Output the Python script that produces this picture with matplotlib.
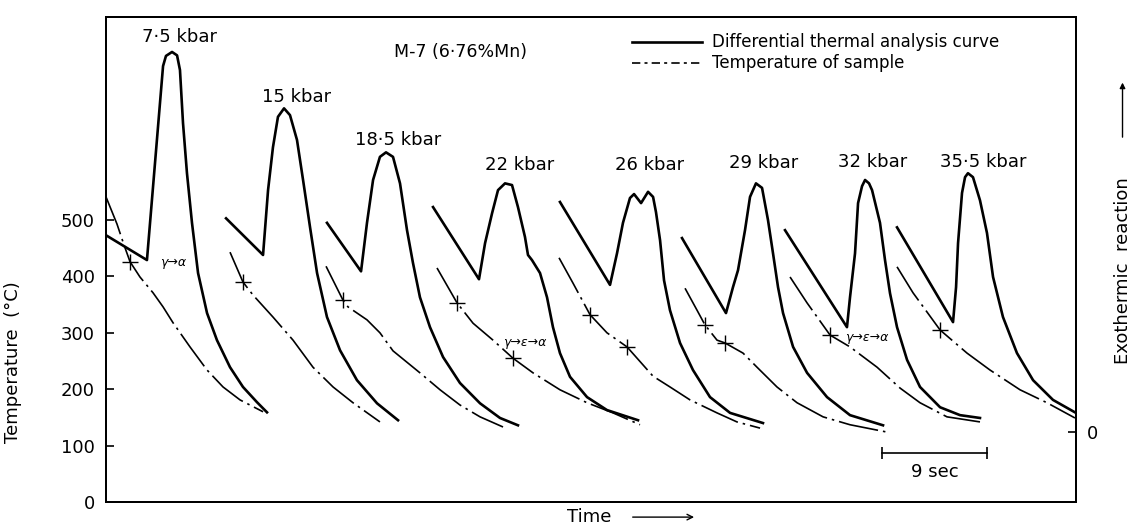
import matplotlib
matplotlib.use("Agg")
import matplotlib.pyplot as plt
from matplotlib.lines import Line2D
from matplotlib.patches import FancyArrowPatch

# DTA runs of sample M-7 at eight pressures
pressures = ["7·5 kbar", "15 kbar", "18·5 kbar", "22 kbar",
             "26 kbar", "29 kbar", "32 kbar", "35·5 kbar"]

# differential thermal analysis curves: time (s), signal (0 = baseline, same scale as °C)
dta_time = [
    [0.0, 3.51, 4.89, 5.14, 5.66, 6.09, 6.34, 6.6, 6.94, 7.37, 7.89, 8.66, 9.51, 10.63, 11.74, 12.94, 13.8],
    [10.29, 13.46, 13.89, 14.31, 14.74, 15.26, 15.77, 16.37, 16.89, 17.49, 18.09, 18.94, 20.06, 21.51, 23.23, 25.03],
    [18.94, 21.86, 22.37, 22.89, 23.48, 24.0, 24.6, 25.2, 25.8, 26.31, 26.91, 27.77, 28.89, 30.34, 32.06, 33.77, 35.31],
    [28.03, 31.97, 32.49, 33.09, 33.6, 34.2, 34.8, 35.31, 35.91, 36.17, 36.51, 37.2, 37.8, 38.31, 38.91, 39.77, 41.23, 42.94, 45.6],
    [38.91, 43.2, 43.8, 44.31, 44.91, 45.26, 45.86, 46.46, 46.89, 47.14, 47.49, 47.83, 48.34, 49.2, 50.31, 51.77, 53.49, 56.31],
    [49.37, 53.14, 53.74, 54.17, 54.77, 55.2, 55.71, 56.23, 56.74, 57.17, 57.6, 58.03, 58.89, 60.09, 61.8, 63.77, 66.6],
    [58.2, 63.51, 63.77, 64.2, 64.46, 64.8, 65.06, 65.4, 65.66, 66.34, 66.77, 67.2, 67.8, 68.66, 69.77, 71.49, 73.2, 74.91],
    [67.8, 72.6, 72.86, 73.03, 73.37, 73.63, 73.88, 74.31, 74.91, 75.51, 76.03, 76.88, 78.08, 79.46, 81.17, 83.05],
]
dta_signal = [
    [349, 305, 649, 667, 674, 668, 642, 548, 459, 371, 282, 211, 163, 115, 80, 53, 35],
    [379, 314, 429, 505, 559, 574, 562, 518, 447, 363, 282, 204, 145, 92, 51, 21],
    [371, 285, 371, 447, 488, 496, 488, 441, 358, 300, 239, 186, 133, 87, 51, 25, 12],
    [399, 271, 335, 388, 429, 441, 438, 399, 346, 314, 305, 282, 239, 186, 140, 98, 62, 39, 21],
    [408, 261, 317, 371, 415, 422, 406, 426, 417, 390, 340, 269, 216, 158, 110, 62, 34, 16],
    [344, 211, 257, 287, 358, 417, 441, 433, 376, 317, 257, 211, 151, 105, 62, 30, 12],
    [358, 186, 239, 317, 406, 436, 447, 441, 429, 371, 305, 246, 186, 128, 80, 44, 30, 25],
    [363, 195, 257, 335, 424, 452, 459, 452, 411, 353, 275, 204, 140, 92, 57, 35],
]

# temperature of sample: time (s), temperature (°C)
temp_time = [
    [0.0, 0.94, 1.54, 2.06, 2.91, 4.03, 4.89, 5.74, 7.2, 8.66, 10.03, 11.49, 13.46],
    [10.63, 11.74, 12.6, 14.31, 16.03, 17.74, 19.46, 21.17, 23.48],
    [18.86, 20.31, 20.74, 22.37, 23.48, 24.6, 26.91, 28.63, 30.34, 32.06, 34.03],
    [28.37, 30.09, 31.46, 33.17, 34.88, 36.6, 38.91, 41.23, 43.46, 45.77],
    [38.83, 40.03, 41.49, 42.94, 44.66, 46.89, 48.34, 50.06, 52.37, 54.08, 56.06],
    [49.63, 50.66, 51.34, 52.37, 53.06, 54.6, 55.8, 57.51, 59.23, 61.46, 63.77, 66.94],
    [58.63, 60.09, 62.06, 63.77, 66.09, 68.06, 69.77, 72.08, 74.91],
    [67.8, 69.17, 71.49, 73.8, 75.77, 78.34, 80.65, 83.05],
]
temp_value = [
    [541, 493, 456, 426, 399, 371, 346, 318, 275, 234, 204, 181, 160],
    [443, 390, 367, 328, 287, 239, 204, 176, 142],
    [418, 358, 346, 323, 300, 268, 229, 199, 172, 151, 133],
    [415, 353, 317, 287, 255, 229, 199, 176, 158, 137],
    [433, 388, 332, 300, 275, 223, 204, 181, 158, 142, 131],
    [379, 340, 314, 287, 282, 264, 239, 204, 176, 151, 137, 124],
    [399, 353, 296, 275, 239, 202, 176, 151, 142],
    [417, 371, 305, 264, 234, 199, 176, 149],
]

# transformation start / finish marks on the temperature curves
cross_time = [2.06, 11.74, 20.31, 30.09, 34.88, 41.49, 44.66, 51.34, 53.06, 62.06, 71.49]
cross_temp = [426, 390, 358, 353, 255, 332, 275, 314, 282, 296, 305]

# pressure label anchors
label_time = [6.26, 16.37, 25.0, 35.48, 46.63, 56.4, 65.74, 75.17]
label_temp = [824, 718, 642, 598, 598, 601, 603, 603]

DASHDOT = (0, (24, 3, 1.5, 3))

fig = plt.figure(figsize=(11.35, 5.32), dpi=100)
ax = fig.add_axes([106 / 1135, 30 / 532, 970 / 1135, 485 / 532])
ax.set_xlim(0, 83.14)
ax.set_ylim(0, 860)
ax2 = ax.twinx()
ax2.set_ylim(-124, 736)

for t, v in zip(temp_time, temp_value):
    ax.plot(t, v, color="black", lw=1.2, linestyle=DASHDOT)
for t, s in zip(dta_time, dta_signal):
    ax2.plot(t, s, color="black", lw=1.9, solid_joinstyle="round")

ax.plot(cross_time, cross_temp, linestyle="none", marker="+", color="black",
        markersize=11, markeredgewidth=1.0)

for name, t, y in zip(pressures, label_time, label_temp):
    ax.text(t, y, name, ha="center", va="center", fontsize=13)

ax.text(5.74, 424, "γ→α", fontsize=9, style="italic", ha="center", va="center")
ax.text(35.9, 282, "γ→ε→α", fontsize=9, style="italic", ha="center", va="center")
ax.text(65.2, 291, "γ→ε→α", fontsize=9, style="italic", ha="center", va="center")

# 9 second scale bar
ax.plot([66.5, 75.5], [87, 87], color="black", lw=1.2, marker="|",
        markersize=8, markeredgewidth=1.2)
ax.text(71.0, 53, "9 sec", ha="center", va="center", fontsize=13)

# header and legend
ax.text(0.365, 0.928, "M-7 (6·76%Mn)", transform=ax.transAxes,
        ha="center", va="center", fontsize=12.5)
ax.add_line(Line2D([0.542, 0.614], [0.948, 0.948], transform=ax.transAxes,
                   color="black", lw=1.9))
ax.add_line(Line2D([0.542, 0.614], [0.905, 0.905], transform=ax.transAxes,
                   color="black", lw=1.2, linestyle=(0, (5, 2.5, 1.8, 2.5))))
ax.text(0.625, 0.948, "Differential thermal analysis curve", transform=ax.transAxes,
        ha="left", va="center", fontsize=12)
ax.text(0.625, 0.905, "Temperature of sample", transform=ax.transAxes,
        ha="left", va="center", fontsize=12)

ax.set_xticks([])
ax.set_yticks(range(0, 600, 100))
ax.tick_params(axis="y", direction="in", length=6, width=1.2, labelsize=13, pad=8)
ax2.set_yticks([0])
ax2.tick_params(axis="y", direction="in", length=6, width=1.2, labelsize=13, pad=8)
for a in (ax, ax2):
    for sp in a.spines.values():
        sp.set_linewidth(1.4)

ax.set_ylabel("Temperature  (°C)", fontsize=13)
ax.yaxis.set_label_coords(-0.087, 0.289)

fig.text(0.4996, 0.028, "Time", ha="left", va="center", fontsize=13)
fig.add_artist(FancyArrowPatch(
    (0.555, 0.028), (0.614, 0.028), transform=fig.transFigure,
    arrowstyle="->", mutation_scale=10, lw=1.0, color="black"))

fig.text(0.989, 0.492, "Exothermic  reaction", rotation=90, ha="center",
         va="center", fontsize=13)
fig.add_artist(FancyArrowPatch(
    (0.989, 0.737), (0.989, 0.85), transform=fig.transFigure,
    arrowstyle="-|>", mutation_scale=8, lw=1.0, color="black"))

fig.savefig("out.png", dpi=100)
